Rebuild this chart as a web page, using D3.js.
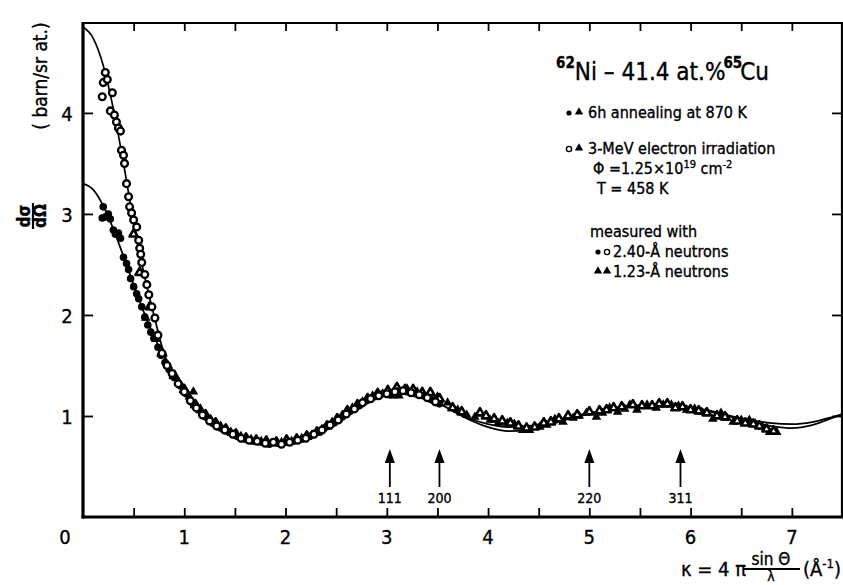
<!DOCTYPE html>
<html><head><meta charset="utf-8">
<script src="https://cdn.jsdelivr.net/npm/d3@7"></script>
<style>body{margin:0;background:#fff} svg{display:block} text{stroke:#000;stroke-width:0.35px}</style>
</head><body><svg id="c" width="843" height="585"></svg>
<script>
// ---------- data ----------
const xTickLabels = [0,1,2,3,4,5,6,7];
const yTickLabels = [1,2,3,4];
const curveK   = [0,0.1,0.2,0.3,0.4,0.5,0.6,0.7,0.8,0.9,1.0,1.1,1.2,1.3,1.4,1.6,1.8,2.0,2.2,2.4,2.6,2.8,3.0,3.2,3.4,3.6,3.8,4.0,4.2,4.4,4.6,4.8,5.0,5.2,5.4,5.6,5.8,6.0,6.2,6.4,6.6,6.8,7.0,7.2,7.4,7.5];
const curveIrr = [4.85,4.74,4.47,4.04,3.50,2.92,2.42,2.00,1.62,1.40,1.24,1.10,1.00,0.92,0.86,0.78,0.74,0.74,0.78,0.88,1.02,1.15,1.23,1.25,1.19,1.08,0.97,0.89,0.85,0.86,0.91,0.97,1.02,1.06,1.09,1.10,1.10,1.08,1.04,0.99,0.94,0.90,0.88,0.91,0.98,1.02];
const curveAnn = [3.30,3.24,3.08,2.85,2.58,2.30,2.03,1.79,1.58,1.40,1.25,1.11,1.00,0.92,0.86,0.78,0.74,0.75,0.80,0.90,1.04,1.16,1.23,1.24,1.18,1.08,0.98,0.92,0.89,0.90,0.94,0.99,1.03,1.07,1.10,1.11,1.11,1.09,1.05,1.00,0.96,0.93,0.92,0.94,0.99,1.02];

// open circles: irradiated, 2.40 Å neutrons  [kappa, value]
const circOpen = [[0.19,4.16],[0.20,4.30],[0.22,4.40],[0.24,4.33],[0.27,4.02],[0.29,4.20],[0.31,3.98],[0.33,3.91],[0.35,3.85],[0.37,3.82],[0.38,3.63],[0.40,3.58],[0.41,3.50],[0.43,3.30],[0.45,3.17],[0.46,3.07],[0.48,3.01],[0.50,2.94],[0.53,2.87],[0.55,2.74],[0.56,2.66],[0.57,2.60],[0.58,2.52],[0.61,2.40],[0.63,2.30],[0.65,2.20],[0.68,2.08],[0.71,1.97],[0.74,1.80],[0.78,1.62],[0.83,1.50],[0.88,1.42],[0.94,1.32],[1.00,1.24],[1.06,1.15],[1.12,1.08],[1.18,1.01],[1.25,0.95],[1.32,0.90],[1.40,0.86],[1.48,0.82],[1.56,0.78],[1.64,0.76],[1.72,0.75],[1.80,0.73],[1.88,0.74],[1.96,0.72],[2.04,0.74],[2.12,0.76],[2.20,0.78],[2.28,0.82],[2.36,0.86],[2.44,0.91],[2.52,0.96],[2.60,1.02],[2.68,1.07],[2.76,1.13],[2.84,1.17],[2.92,1.20],[3.00,1.22],[3.08,1.24],[3.16,1.25],[3.24,1.23],[3.32,1.21],[3.40,1.18],[3.48,1.14]];
// filled circles: annealed, 2.40 Å neutrons
const circFill = [[0.19,2.96],[0.20,3.07],[0.22,2.97],[0.25,3.00],[0.27,2.95],[0.30,2.84],[0.32,2.80],[0.35,2.81],[0.37,2.76],[0.40,2.57],[0.43,2.51],[0.45,2.45],[0.47,2.36],[0.50,2.28],[0.53,2.21],[0.55,2.16],[0.58,2.08],[0.61,1.98],[0.64,1.90],[0.67,1.83],[0.70,1.77],[0.74,1.68],[0.77,1.60],[0.81,1.53],[0.85,1.46],[0.90,1.38],[0.96,1.30],[1.02,1.22],[1.08,1.13],[1.14,1.06],[1.21,0.99],[1.28,0.93],[1.36,0.88],[1.44,0.84],[1.52,0.80],[1.60,0.77],[1.68,0.75],[1.76,0.74],[1.84,0.72],[1.92,0.73],[2.00,0.74],[2.08,0.75],[2.16,0.77],[2.24,0.80],[2.32,0.84],[2.40,0.89],[2.48,0.93],[2.56,0.99],[2.64,1.05],[2.72,1.10],[2.80,1.15],[2.88,1.19],[2.96,1.22],[3.04,1.21],[3.12,1.25],[3.20,1.24],[3.28,1.22],[3.36,1.20],[3.44,1.16],[3.52,1.12]];
// filled triangles: annealed, 1.23 Å neutrons
const triFill = [[0.62,1.97],[0.72,1.76],[0.84,1.50],[0.95,1.33],[1.05,1.19],[1.09,1.24],[1.16,1.07],[1.26,0.97],[1.36,0.90],[1.46,0.84],[1.56,0.80],[1.66,0.77],[1.76,0.75],[1.86,0.73],[1.96,0.74],[2.06,0.75],[2.16,0.78],[2.26,0.81],[2.36,0.87],[2.46,0.94],[2.56,1.01],[2.66,1.08],[2.76,1.14],[2.86,1.20],[2.96,1.22],[3.06,1.20],[3.12,1.20],[3.20,1.27],[3.30,1.24],[3.40,1.19],[3.50,1.19],[3.60,1.13],[3.70,1.06],[3.79,1.01],[3.87,0.99],[4.02,0.96],[4.10,0.93],[4.19,0.93],[4.26,0.92],[4.34,0.86],[4.41,0.86],[4.51,0.89],[4.58,0.91],[4.66,0.97],[4.74,0.94],[4.84,0.98],[4.90,1.00],[4.97,1.03],[5.07,0.99],[5.13,1.03],[5.20,1.08],[5.28,1.04],[5.35,1.07],[5.40,1.11],[5.47,1.06],[5.57,1.11],[5.66,1.08],[5.73,1.11],[5.81,1.11],[5.88,1.10],[5.96,1.06],[6.04,1.07],[6.11,1.04],[6.22,0.97],[6.30,1.03],[6.36,0.98],[6.42,0.94],[6.50,0.96],[6.58,0.96],[6.64,0.92],[6.71,0.89],[6.78,0.84],[6.85,0.84]];
// open triangles: irradiated, 1.23 Å neutrons
const triOpen = [[0.50,2.80],[0.56,2.42],[0.66,2.08],[0.78,1.62],[0.90,1.40],[1.00,1.26],[1.11,1.11],[1.21,1.01],[1.31,0.93],[1.41,0.87],[1.51,0.82],[1.61,0.78],[1.71,0.76],[1.81,0.75],[1.91,0.74],[2.01,0.76],[2.11,0.77],[2.21,0.80],[2.31,0.84],[2.41,0.90],[2.51,0.97],[2.61,1.05],[2.71,1.11],[2.81,1.17],[2.91,1.22],[3.01,1.25],[3.10,1.28],[3.18,1.26],[3.26,1.26],[3.35,1.23],[3.43,1.23],[3.52,1.17],[3.65,1.08],[3.74,1.04],[3.92,1.03],[3.98,1.00],[4.06,0.97],[4.14,0.95],[4.22,0.93],[4.30,0.90],[4.38,0.88],[4.46,0.89],[4.55,0.93],[4.62,0.94],[4.70,0.97],[4.79,1.00],[4.88,1.01],[5.00,1.04],[5.10,1.05],[5.17,1.06],[5.24,1.08],[5.32,1.09],[5.43,1.11],[5.52,1.10],[5.62,1.10],[5.69,1.12],[5.77,1.12],[5.85,1.08],[5.92,1.09],[6.00,1.06],[6.08,1.05],[6.16,1.03],[6.26,1.00],[6.34,0.99],[6.46,0.95],[6.54,0.93],[6.62,0.92],[6.68,0.90],[6.75,0.87],[6.82,0.85]];

const reflK = [3.03,3.52,5.0,5.9];
const reflLabels = ["111","200","220","311"];

// ---------- drawing ----------
const FONT = "'DejaVu Sans Condensed','DejaVu Sans',sans-serif";
const svg = d3.select("#c");
const x = d3.scaleLinear().domain([0,7.5]).range([83,842.5]);
const y = d3.scaleLinear().domain([0,4.89]).range([517,23]);

svg.append("defs").append("clipPath").attr("id","clip")
  .append("rect").attr("x",83).attr("y",23).attr("width",760).attr("height",494);

const plot = svg.append("g").attr("clip-path","url(#clip)");
const line = d3.line().x(d=>x(d[0])).y(d=>y(d[1])).curve(d3.curveMonotoneX);
[curveIrr, curveAnn].forEach(vals=>{
  plot.append("path").datum(curveK.map((k,i)=>[k,vals[i]]))
    .attr("d",line).attr("fill","none").attr("stroke","#000").attr("stroke-width",1.7);
});

const tri = d3.symbol().type(d3.symbolTriangle).size(40);
const triS = d3.symbol().type(d3.symbolTriangle).size(30);
plot.selectAll(".tf").data(triFill).join("path")
  .attr("transform",d=>`translate(${x(d[0])},${y(d[1])})`).attr("d",tri).attr("fill","#000");
plot.selectAll(".to").data(triOpen).join("path")
  .attr("transform",d=>`translate(${x(d[0])},${y(d[1])})`).attr("d",triS)
  .attr("fill","#fff").attr("stroke","#000").attr("stroke-width",2.6).attr("stroke-linejoin","round");
plot.selectAll(".cf").data(circFill).join("circle")
  .attr("cx",d=>x(d[0])).attr("cy",d=>y(d[1])).attr("r",3.8).attr("fill","#000");
plot.selectAll(".co").data(circOpen).join("circle")
  .attr("cx",d=>x(d[0])).attr("cy",d=>y(d[1])).attr("r",3.4)
  .attr("fill","#fff").attr("stroke","#000").attr("stroke-width",2.3);

// axes (inward ticks, frame)
const gB = svg.append("g").attr("transform","translate(0,517)")
  .call(d3.axisBottom(x).tickValues(d3.range(0.5,7.5,0.5)).tickSize(-9).tickFormat(""));
const gT = svg.append("g").attr("transform","translate(0,23)")
  .call(d3.axisTop(x).tickValues(d3.range(0.5,7.5,0.5)).tickSize(-8).tickFormat(""));
const gL = svg.append("g").attr("transform","translate(83,0)")
  .call(d3.axisLeft(y).tickValues(yTickLabels).tickSize(-10).tickFormat(""));
const gR = svg.append("g").attr("transform","translate(842,0)")
  .call(d3.axisRight(y).tickValues(yTickLabels).tickSize(-10).tickFormat(""));
[gB,gT,gL,gR].forEach(g=>{ g.select(".domain").remove(); g.selectAll("line").attr("stroke","#000").attr("stroke-width",1.8); });

svg.append("line").attr("x1",81.5).attr("x2",843).attr("y1",517).attr("y2",517).attr("stroke","#000").attr("stroke-width",3.2);
svg.append("line").attr("x1",83).attr("x2",83).attr("y1",22).attr("y2",518.5).attr("stroke","#000").attr("stroke-width",3.2);
svg.append("line").attr("x1",82).attr("x2",843).attr("y1",23).attr("y2",23).attr("stroke","#000").attr("stroke-width",2.2);
svg.append("line").attr("x1",842).attr("x2",842).attr("y1",22).attr("y2",518).attr("stroke","#000").attr("stroke-width",2.2);

// tick labels
svg.selectAll(".xl").data(xTickLabels).join("text")
  .attr("x",d=> d===0 ? 65 : x(d)).attr("y",544).attr("text-anchor","middle")
  .attr("font-family",FONT).attr("font-size",20).text(d=>d);
svg.selectAll(".yl").data(yTickLabels).join("text")
  .attr("x",67).attr("y",d=>y(d)+8).attr("text-anchor","middle")
  .attr("font-family",FONT).attr("font-size",20).text(d=>d);

// reflection arrows
const ar = svg.append("g");
reflK.forEach((k,i)=>{
  const px = x(k);
  ar.append("line").attr("x1",px).attr("x2",px).attr("y1",460).attr("y2",487).attr("stroke","#000").attr("stroke-width",1.8);
  ar.append("path").attr("d",`M${px},449 L${px-5},463 L${px+5},463 Z`).attr("fill","#000");
  ar.append("text").attr("x",px).attr("y",503).attr("text-anchor","middle")
    .attr("font-family",FONT).attr("font-size",14).text(reflLabels[i]);
});

// y label
const yl = svg.append("g");
yl.append("text").attr("transform","translate(47,76) rotate(-90)").attr("text-anchor","middle")
  .attr("font-family",FONT).attr("font-size",19).text("( barn/sr at.)");
const fr = yl.append("g").attr("transform","translate(33,216) rotate(-90)");
fr.append("text").attr("x",0).attr("y",-3).attr("text-anchor","middle").attr("font-family",FONT).attr("font-size",17).attr("font-weight","bold").text("dσ");
fr.append("line").attr("x1",-13).attr("x2",13).attr("y1",0).attr("y2",0).attr("stroke","#000").attr("stroke-width",2.2);
fr.append("text").attr("x",0).attr("y",13).attr("text-anchor","middle").attr("font-family",FONT).attr("font-size",17).attr("font-weight","bold").text("dΩ");

// x label
const xl = svg.append("g").attr("font-family",FONT);
xl.append("text").attr("x",681).attr("y",576).attr("font-size",20).text("κ = 4 π");
xl.append("text").attr("x",771).attr("y",565).attr("text-anchor","middle").attr("font-size",17).text("sin Θ");
xl.append("line").attr("x1",743).attr("x2",800).attr("y1",569).attr("y2",569).attr("stroke","#000").attr("stroke-width",2);
xl.append("text").attr("x",771).attr("y",581).attr("text-anchor","middle").attr("font-size",14).text("λ");
const xu = xl.append("text").attr("x",803).attr("y",576).attr("font-size",20);
xu.append("tspan").text("(Å");
xu.append("tspan").attr("font-size",13).attr("dy",-8).text("-1");
xu.append("tspan").attr("dy",8).text(")");

// legend
const lg = svg.append("g").attr("font-family",FONT);
const t = lg.append("text").attr("x",556).attr("y",80).attr("font-size",24);
t.append("tspan").attr("font-size",15).attr("dy",-12).attr("font-weight","bold").text("62");
t.append("tspan").attr("dy",12).text("Ni – 41.4 at.%");
t.append("tspan").attr("font-size",15).attr("dy",-12).attr("dx",-2).attr("font-weight","bold").text("65");
t.append("tspan").attr("dy",12).attr("dx",-2).text("Cu");

function legCirc(cx,cy,open){ lg.append("circle").attr("cx",cx).attr("cy",cy).attr("r",2.6)
  .attr("fill",open?"#fff":"#000").attr("stroke","#000").attr("stroke-width",open?1.4:0); }
function legTri(cx,cy){ lg.append("path").attr("transform",`translate(${cx},${cy})`)
  .attr("d",d3.symbol().type(d3.symbolTriangle).size(30)()).attr("fill","#000"); }
legCirc(569,113,false); legTri(579,112);
lg.append("text").attr("x",588).attr("y",118).attr("font-size",16).text("6h annealing at 870 K");
legCirc(569,149,true); legTri(579,148);
lg.append("text").attr("x",588).attr("y",154).attr("font-size",16).text("3-MeV electron irradiation");
const phi = lg.append("text").attr("x",593).attr("y",174).attr("font-size",16);
phi.append("tspan").text("Φ =1.25×10");
phi.append("tspan").attr("font-size",11).attr("dy",-6).text("19");
phi.append("tspan").attr("dy",6).text(" cm");
phi.append("tspan").attr("font-size",11).attr("dy",-6).text("-2");
lg.append("text").attr("x",597).attr("y",194).attr("font-size",16).text("T = 458 K");
lg.append("text").attr("x",590).attr("y",237).attr("font-size",16).text("measured with");
legCirc(598,252,false); legCirc(607,252,true);
lg.append("text").attr("x",613).attr("y",257).attr("font-size",16).text("2.40-Å neutrons");
legTri(598,271); legTri(607,271);
lg.append("text").attr("x",613).attr("y",277).attr("font-size",16).text("1.23-Å neutrons");
</script></body></html>
